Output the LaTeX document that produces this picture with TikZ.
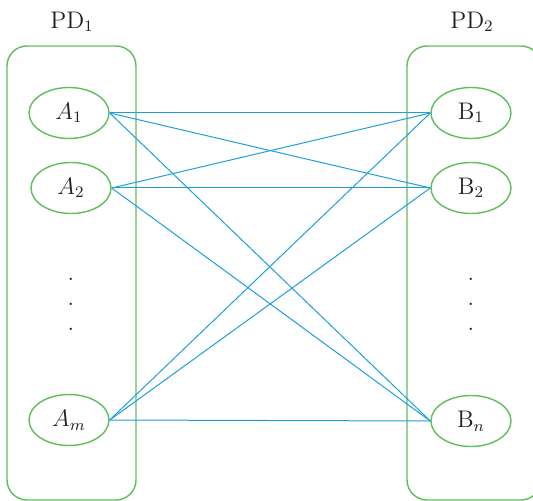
\documentclass[tikz,border=0pt]{standalone}
\usetikzlibrary{shapes.geometric}
\definecolor{pdGreen}{HTML}{5DBE5A}
\definecolor{lnBlue}{HTML}{1E9FDB}
\definecolor{textDark}{HTML}{222222}

\begin{document}
\begin{tikzpicture}[x=0.5pt, y=-0.5pt,
    pd/.style={rectangle, rounded corners=10pt, draw=pdGreen, line width=0.7pt,
               minimum height=227pt},
    el/.style={ellipse, draw=pdGreen, line width=0.7pt, inner sep=0pt,
               minimum width=40pt, minimum height=25.5pt,
               font=\large\color{textDark}},
    ttl/.style={font=\large\color{textDark}},
    dt/.style={inner sep=0pt, font=\large\color{textDark}},
    ln/.style={draw=lnBlue, line width=0.5pt},
  ]
    \clip (0,0) rectangle (533,501);
    \useasboundingbox (0,0) rectangle (533,501);

    % the two boxes
    \node[pd, minimum width=64.5pt] (pd1box) at (71.5, 273) {};
    \node[pd, minimum width=67pt] (pd2box) at (474, 273) {};
    \node[ttl] (pd1) at (72, 22) {PD$_1$};
    \node[ttl] (pd2) at (472, 22) {PD$_2$};

    % elements
    \node[el] (a1) at (69, 113) {$A_1$};
    \node[el] (a2) at (71, 188) {$A_2$};
    \node[el] (am) at (69, 420) {$A_m$};
    \node[el] (b1) at (471, 113) {$\mathrm{B}_1$};
    \node[el] (b2) at (471, 188) {$\mathrm{B}_2$};
    \node[el] (bn) at (471, 421) {$\mathrm{B}_n$};

    \foreach \y [count=\i] in {279, 304, 329} {
      \node[dt] (ldot\i) at (71, \y) {.};
      \node[dt] (rdot\i) at (471, \y) {.};
    }

    % connections
    \foreach \a in {a1, a2, am}
      \foreach \b in {b1, b2, bn}
        \draw[ln] (\a.east) -- (\b.west);
  \end{tikzpicture}
\end{document}
